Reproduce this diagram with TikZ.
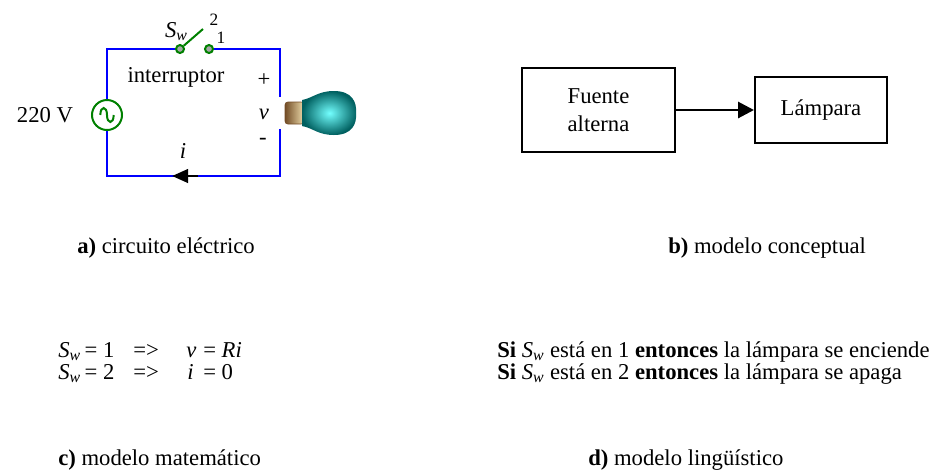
\documentclass[tikz,border=0pt]{standalone}
\usepackage{fontspec}
\setmainfont{Liberation Serif}
\usetikzlibrary{arrows.meta,positioning}
\newcommand{\Sw}{\textit{S}\textsubscript{\textit{w}}}
\tikzset{
  wire/.style={blue, line width=2pt},
  swgreen/.style={draw=green!50!black, line width=1.5pt},
  term/.style={circle, swgreen, fill=gray!70, inner sep=0pt, minimum size=6pt},
  blockbox/.style={draw, line width=1.5pt, align=center, inner sep=2pt},
  txt/.style={inner sep=0pt, anchor=base west},
  small/.style={inner sep=0pt, font=\fontsize{13}{15}\selectfont},
}

\begin{document}
\begin{tikzpicture}[x=0.75pt, y=-0.75pt, font=\fontsize{17}{20}\selectfont]
		\useasboundingbox (0,0) rectangle (935,469);
		%%%%% START %%%%%

		% circuit corners and terminals
		\coordinate (tl) at (107, 49);
		\coordinate (tr) at (280, 49);
		\coordinate (br) at (280, 176);
		\coordinate (bl) at (107, 176);
		\coordinate (ltop) at (280, 97);
		\coordinate (lbot) at (280, 129);
		\node[circle, swgreen, minimum size=22.5pt, inner sep=0pt] (src) at (107, 115) {};
		\draw[swgreen] ([xshift=-5pt]src.center) .. controls ([xshift=-5pt, yshift=7pt]src.center) and ([yshift=7pt]src.center) .. (src.center)
			.. controls ([yshift=-7pt]src.center) and ([xshift=5pt, yshift=-7pt]src.center) .. ([xshift=5pt]src.center);
		\node[term] (swl) at (180, 49) {};
		\node[term] (swr) at (209, 49) {};
		\coordinate (blade) at (203, 29);

		\draw[wire] (src.north) -- (tl) -- (swl.west);
		\draw[wire] (swr.east) -- (tr) -- (ltop);
		\draw[wire] (lbot) -- (br) -- (bl) -- (src.south);
		\draw[green!50!black, line width=1.5pt] (swl) -- (blade);

		% current arrow
		\coordinate (ia) at (198, 176);
		\coordinate (ib) at (172, 176);
		\draw[line width=2.2pt, -{Triangle[length=12pt, width=10pt]}] (ia) -- (ib);

		% lamp
		\draw[draw=brown!60!black, left color=brown!60!black, right color=yellow!30!brown!40, rounded corners=2pt] (285, 102) rectangle (304, 124);
		\shade[inner color=cyan!55!white, outer color=teal!75!black]
			(302, 100) .. controls (313, 98) and (318, 91) .. (334, 91)
			.. controls (352, 91) and (357, 102) .. (356, 113)
			.. controls (357, 124) and (352, 135) .. (334, 135)
			.. controls (318, 135) and (313, 128) .. (302, 126) -- cycle;

		% circuit labels
		\node (vsrc) at (45, 115) {220 V};
		\node[inner sep=0pt, anchor=base east] (swname) at (188, 37) {\Sw};
		\node[small, anchor=base] (pos2) at (214, 25) {2};
		\node[small, anchor=base] (pos1) at (221, 43) {1};
		\node[anchor=base] (intlbl) at (176, 82) {interruptor};
		\node (plus) at (264, 80) {+};
		\node (volt) at (264, 114) {\textit{v}};
		\node (minus) at (263, 141) {-};
		\node (curr) at (183, 151) {\textit{i}};

		% block diagram
		\node[blockbox, minimum width=114.75pt, minimum height=63pt] (fuente) at (598.5, 110) {Fuente\\[1pt]alterna};
		\node[blockbox, minimum width=99pt, minimum height=49.5pt] (lampara) at (821, 110) {Lámpara};
		\draw[line width=2.2pt, -{Triangle[length=12pt, width=12pt]}] (fuente.east) -- (lampara.west);

		% captions a) and b)
		\node[txt] (capa) at (77, 253) {\textbf{a)} circuito eléctrico};
		\node[txt] (capb) at (668, 253) {\textbf{b)} modelo conceptual};

		% mathematical model
		\node[txt] (m1a) at (58, 357) {\Sw\,= 1};
		\node[txt] (m1b) at (133, 357) {=>};
		\node[txt] (m1c) at (186, 357) {\textit{v}};
		\node[txt] (m1d) at (203, 357) {= \textit{Ri}};
		\node[txt] (m2a) at (58, 379) {\Sw\,= 2};
		\node[txt] (m2b) at (133, 379) {=>};
		\node[txt] (m2c) at (187, 379) {\textit{i}};
		\node[txt] (m2d) at (203, 379) {= 0};

		% linguistic model
		\node[txt] (l1) at (497, 357) {\textbf{Si} \Sw{} está en 1 \textbf{entonces} la lámpara se enciende};
		\node[txt] (l2) at (497, 379) {\textbf{Si} \Sw{} está en 2 \textbf{entonces} la lámpara se apaga};

		% captions c) and d)
		\node[txt] (capc) at (58, 465) {\textbf{c)} modelo matemático};
		\node[txt] (capd) at (588, 465) {\textbf{d)} modelo lingüístico};

		%%%%% END %%%%%
	\end{tikzpicture}
\end{document}
